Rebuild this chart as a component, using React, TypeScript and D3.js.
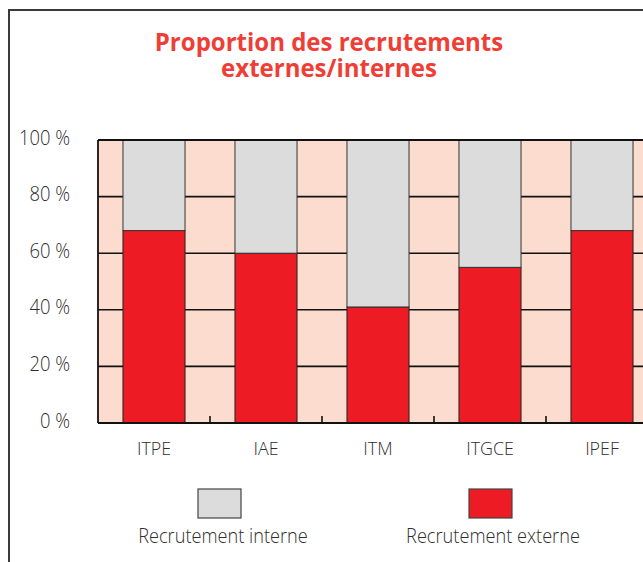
import React from "react";
import * as d3 from "d3";

const categories = ["ITPE", "IAE", "ITM", "ITGCE", "IPEF"];
const externe = [68, 60, 41, 55, 68];
const interne = [32, 40, 59, 45, 32];
const yTicks = [0, 20, 40, 60, 80, 100];
const titleLines = ["Proportion des recrutements", "externes/internes"];
const legendLabels = ["Recrutement interne", "Recrutement externe"];

const W = 643;
const H = 562;
const PEACH = "#fcdcce";
const RED = "#ed1c24";
const GRAY = "#dcdcdc";
const TEXT = "#2e2e2e";
const FONT = "'Open Sans', sans-serif";

function LightText(props: {
  x: number;
  y: number;
  size: number;
  sx: number;
  anchor: "start" | "middle" | "end";
  children: React.ReactNode;
}) {
  const { x, y, size, sx, anchor, children } = props;
  return (
    <text
      transform={`translate(${x},${y}) scale(${sx},1)`}
      textAnchor={anchor}
      fill={TEXT}
      style={{ fontFamily: FONT, fontWeight: 350, fontSize: size }}
    >
      {children}
    </text>
  );
}

export default function App() {
  const x = d3
    .scaleBand<string>()
    .domain(categories)
    .range([98, 658])
    .paddingInner(0.446)
    .paddingOuter(0.223);
  const y = d3.scaleLinear().domain([0, 100]).range([423, 140]);
  const bw = x.bandwidth();
  const step = x.step();
  const left = 98;
  const right = 660;

  const boundaries = categories.slice(0, -1).map((c) => (x(c) as number) + bw / 2 + step / 2);

  const stack = categories.map((c, i) => ({ c, ext: externe[i], int: interne[i] }));

  return (
    <svg
      width={W}
      height={H}
      style={{ position: "absolute", left: 0, top: 0, background: "#fff" }}
    >
      <rect x={9} y={10} width={W + 20} height={H + 20} fill="#fff" stroke="#3a3a3a" strokeWidth={2} />
      <text
        transform="translate(329,50.5) scale(0.96,1)"
        textAnchor="middle"
        fill="#ef3e36"
        style={{ fontFamily: FONT, fontWeight: 700, fontSize: 25 }}
      >
        {titleLines.map((t, i) => (
          <tspan key={t} x={0} dy={i === 0 ? 0 : 26.5}>
            {t}
          </tspan>
        ))}
      </text>
      {/* plot background */}
      <rect x={left} y={y(100)} width={right - left} height={y(0) - y(100)} fill={PEACH} />
      {/* gridlines */}
      {yTicks.map((t) => (
        <line key={t} x1={left} x2={right} y1={y(t)} y2={y(t)} stroke="#111" strokeWidth={1.6} />
      ))}
      {/* bars */}
      {stack.map((d) => (
        <g key={d.c}>
          <rect
            x={x(d.c)}
            y={y(d.ext)}
            width={bw}
            height={y(0) - y(d.ext)}
            fill={RED}
            stroke="#222"
            strokeWidth={1}
          />
          <rect
            x={x(d.c)}
            y={y(d.ext + d.int)}
            width={bw}
            height={y(d.ext) - y(d.ext + d.int)}
            fill={GRAY}
            stroke="#333"
            strokeWidth={1}
          />
        </g>
      ))}
      {/* axes */}
      <line x1={left} x2={right} y1={y(100)} y2={y(100)} stroke="#111" strokeWidth={1.8} />
      <line x1={left} x2={right} y1={y(0)} y2={y(0)} stroke="#111" strokeWidth={2} />
      <line x1={left} x2={left} y1={y(100)} y2={y(0)} stroke="#111" strokeWidth={1.8} />
      {boundaries.map((b) => (
        <line key={b} x1={b} x2={b} y1={y(0)} y2={y(0) - 7} stroke="#111" strokeWidth={1.6} />
      ))}
      {/* y labels */}
      {yTicks.map((t) => (
        <LightText key={t} x={70} y={y(t) + 4.5} size={20} sx={0.92} anchor="end">
          {`${t} %`}
        </LightText>
      ))}
      {/* x labels */}
      {categories.map((c) => (
        <LightText key={c} x={(x(c) as number) + bw / 2} y={455} size={19} sx={0.94} anchor="middle">
          {c}
        </LightText>
      ))}
      {/* legend */}
      {[GRAY, RED].map((col, i) => (
        <g key={col}>
          <rect
            x={[198, 469][i]}
            y={489}
            width={43}
            height={29}
            fill={col}
            stroke="#444"
            strokeWidth={1.2}
          />
          <LightText x={[223, 493][i]} y={543} size={20} sx={0.91} anchor="middle">
            {legendLabels[i]}
          </LightText>
        </g>
      ))}
    </svg>
  );
}
